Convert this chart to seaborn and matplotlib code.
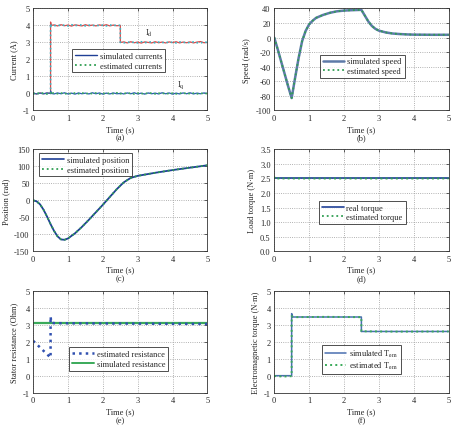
import pandas as pd
import seaborn as sns
import matplotlib.pyplot as plt
from matplotlib.lines import Line2D

# ---- data ----
t_cur = [0.0, 0.1, 0.2, 0.3, 0.4, 0.5, 0.5, 0.52, 0.6, 0.7, 0.8, 0.9, 1.0, 1.1, 1.2, 1.3,
         1.4, 1.5, 1.6, 1.7, 1.8, 1.9, 2.0, 2.1, 2.2, 2.3, 2.4, 2.5, 2.5, 2.6, 2.7, 2.8,
         2.9, 3.0, 3.1, 3.2, 3.3, 3.4, 3.5, 3.6, 3.7, 3.8, 3.9, 4.0, 4.1, 4.2, 4.3, 4.4,
         4.5, 4.6, 4.7, 4.8, 4.9, 5.0]
id_sim = [0.02, -0.03, 0.03, -0.02, 0.02, 0.0, 4.2, 4.0,
          4.03, 3.97, 4.04, 3.98, 4.02, 3.96, 4.03, 4.0, 3.97, 4.04, 3.98, 4.02, 3.97, 4.03,
          3.99, 4.04, 3.97, 4.02, 3.98, 4.0, 3.0,
          3.03, 2.97, 3.04, 2.98, 3.02, 2.96, 3.03, 3.0, 2.97, 3.04, 2.98, 3.02, 2.97, 3.03,
          2.99, 3.04, 2.97, 3.02, 2.98, 3.03, 2.97, 3.02, 3.05, 2.98, 3.0]
id_est = [-0.02, 0.03, -0.03, 0.02, -0.02, 0.0, 4.1, 3.98,
          3.97, 4.03, 3.98, 4.02, 3.97, 4.04, 3.98, 4.02, 4.03, 3.97, 4.02, 3.98, 4.03, 3.97,
          4.02, 3.97, 4.03, 3.98, 4.02, 4.0, 3.0,
          2.97, 3.03, 2.98, 3.02, 2.97, 3.04, 2.98, 3.02, 3.03, 2.97, 3.02, 2.98, 3.03, 2.97,
          3.02, 2.97, 3.03, 2.98, 3.02, 2.97, 3.03, 2.98, 2.97, 3.02, 3.0]
iq_sim = [0.02, -0.03, 0.02, -0.02, 0.03, 0.0, 0.15, 0.0,
          -0.03, 0.03, -0.02, 0.04, -0.03, 0.02, -0.04, 0.03, -0.02, 0.02, -0.03, 0.04, -0.02,
          0.03, -0.04, 0.02, -0.03, 0.03, -0.02, 0.0, 0.02,
          -0.03, 0.03, -0.02, 0.04, -0.03, 0.02, -0.04, 0.03, -0.02, 0.02, -0.03, 0.04, -0.02,
          0.03, -0.04, 0.02, -0.03, 0.03, -0.02, 0.04, -0.03, 0.02, -0.02, 0.03, 0.0]
iq_est = [-0.02, 0.03, -0.02, 0.03, -0.03, 0.0, 0.1, 0.02,
          0.03, -0.02, 0.03, -0.04, 0.02, -0.03, 0.03, -0.02, 0.04, -0.03, 0.02, -0.02, 0.03,
          -0.04, 0.02, -0.03, 0.03, -0.02, 0.04, 0.0, -0.02,
          0.03, -0.02, 0.03, -0.04, 0.02, -0.03, 0.03, -0.02, 0.04, -0.03, 0.02, -0.02, 0.03,
          -0.04, 0.02, -0.03, 0.03, -0.02, 0.04, -0.03, 0.02, -0.03, 0.02, -0.02, 0.0]

t_spd = [0, 0.1, 0.2, 0.3, 0.4, 0.5, 0.6, 0.7, 0.8, 0.9, 1.0, 1.1, 1.2, 1.4, 1.6, 1.8, 2.0,
         2.2, 2.5, 2.6, 2.7, 2.8, 2.9, 3.0, 3.2, 3.4, 3.6, 3.8, 4.0, 4.5, 5.0]
speed = [0, -16, -33, -50, -67, -83, -55, -28, -5, 9, 18, 23, 27, 31, 34, 36, 37,
         37.5, 38, 30, 22, 16, 12, 9.5, 7, 5.5, 4.8, 4.3, 4, 3.8, 3.8]

t_pos = [0, 0.1, 0.2, 0.3, 0.4, 0.5, 0.6, 0.7, 0.8, 0.9, 1.0, 1.2, 1.4, 1.6, 1.8, 2.0,
         2.2, 2.4, 2.6, 2.8, 3.0, 3.5, 4.0, 4.5, 5.0]
position = [0, -3, -12, -28, -48, -70, -90, -106, -115, -116, -112, -97, -78, -57, -35,
            -13, 10, 33, 53, 66, 72, 81, 89, 96, 103]

t_load = [0, 0.03, 0.06, 5]
load_real = [2.5, 2.5, 2.5, 2.5]
load_est = [2.5, 2.56, 2.5, 2.5]

t_res_est = [0, 0.5, 0.5, 0.52, 0.6, 1, 2, 3, 4, 5]
res_est = [2.05, 1.06, 3.48, 3.12, 3.09, 3.08, 3.07, 3.06, 3.05, 3.04]
t_res_sim = [0, 5]
res_sim = [3.1, 3.1]

t_tem = [0, 0.25, 0.5, 0.5, 0.53, 0.6, 1.5, 2.5, 2.5, 3.5, 5]
tem_sim = [0.0, 0.0, 0.0, 3.65, 3.45, 3.45, 3.45, 3.45, 2.6, 2.6, 2.6]
tem_est = [-0.02, -0.05, -0.03, 3.5, 3.46, 3.44, 3.46, 3.44, 2.61, 2.59, 2.6]

# ---- style ----
sns.set_style("white")
plt.rcParams['font.family'] = ['Liberation Serif', 'DejaVu Serif']
plt.rcParams['mathtext.fontset'] = 'stix'
plt.rcParams['axes.unicode_minus'] = False
FS = 6

BLUE = '#1f3f96'
GREEN = '#2f9e52'

fig = plt.figure(figsize=(4.54, 4.27), dpi=100)
lefts = [0.073, 0.604]
bottoms = [0.739, 0.409, 0.078]
W, H = 0.384, 0.239
axes = [fig.add_axes([lefts[i % 2], bottoms[i // 2], W, H]) for i in range(6)]


def style(ax, ylim, yticks, ylabel, tag):
    ax.set_xlim(0, 5)
    ax.set_ylim(*ylim)
    ax.set_xticks([0, 1, 2, 3, 4, 5])
    ax.set_yticks(yticks)
    ax.grid(True, linestyle=':', color='#999999', linewidth=0.6)
    ax.tick_params(direction='in', length=2.5, width=0.5, labelsize=FS, pad=2.5,
                   top=True, right=True)
    for s in ax.spines.values():
        s.set_linewidth(0.6)
        s.set_color('#333333')
    ax.set_xlabel('Time (s)', fontsize=FS, labelpad=2)
    ax.set_ylabel(ylabel, fontsize=FS, labelpad=3)
    ax.text(0.5, -0.265, tag, transform=ax.transAxes, ha='center', va='center', fontsize=FS)


def legend(ax, handles, labels, **kw):
    leg = ax.legend(handles, labels, fontsize=FS, frameon=True, fancybox=False,
                    handlelength=2.6, handletextpad=0.35, borderpad=0.35,
                    labelspacing=0.15, borderaxespad=0, **kw)
    leg.get_frame().set_edgecolor('#222222')
    leg.get_frame().set_linewidth(0.7)


def line(ax, x, y, color, ls='-', lw=1.0):
    sns.lineplot(x=x, y=y, ax=ax, color=color, linestyle=ls, linewidth=lw,
                 estimator=None, sort=False, legend=False)


# (a) currents
ax = axes[0]
line(ax, t_cur, id_sim, '#d94a4a', lw=0.9)
line(ax, t_cur, id_est, '#38b6c4', ':', lw=1.2)
line(ax, t_cur, iq_sim, '#2a5fb0', lw=0.9)
line(ax, t_cur, iq_est, '#3aaa5a', ':', lw=1.2)
style(ax, (-1, 5), range(-1, 6), 'Current (A)', '(a)')
ax.text(3.22, 3.58, r'I$_{\rm d}$', fontsize=FS, va='center')
ax.text(4.12, 0.53, r'I$_{\rm q}$', fontsize=FS, va='center')
legend(ax, [Line2D([], [], color=BLUE, lw=1.0), Line2D([], [], color=GREEN, ls=':', lw=1.3)],
       ['simulated currents', 'estimated currents'], loc='center', bbox_to_anchor=(0.49, 0.485))

# (b) speed
ax = axes[1]
line(ax, t_spd, speed, '#5d7aa8', lw=1.8)
line(ax, t_spd, speed, GREEN, ':', lw=1.3)
style(ax, (-100, 40), range(-100, 41, 20), 'Speed (rad/s)', '(b)')
legend(ax, [Line2D([], [], color='#5d7aa8', lw=1.8), Line2D([], [], color=GREEN, ls=':', lw=1.3)],
       ['simulated speed', 'estimated speed'], loc='center', bbox_to_anchor=(0.505, 0.435))

# (c) position
ax = axes[2]
line(ax, t_pos, position, BLUE, lw=1.3)
line(ax, t_pos, position, GREEN, ':', lw=1.3)
style(ax, (-150, 150), range(-150, 151, 50), 'Position (rad)', '(c)')
legend(ax, [Line2D([], [], color=BLUE, lw=1.2), Line2D([], [], color=GREEN, ls=':', lw=1.3)],
       ['simulated position', 'estimated position'], loc='upper left', bbox_to_anchor=(0.035, 0.96))

# (d) load torque
ax = axes[3]
line(ax, t_load, load_real, BLUE, lw=1.2)
line(ax, t_load, load_est, GREEN, ':', lw=1.4)
style(ax, (0, 3.5), [0, 0.5, 1, 1.5, 2, 2.5, 3, 3.5], 'Load torque (N·m)', '(d)')
legend(ax, [Line2D([], [], color=BLUE, lw=1.2), Line2D([], [], color=GREEN, ls=':', lw=1.3)],
       ['real torque', 'estimated torque'], loc='center', bbox_to_anchor=(0.505, 0.38))

# (e) stator resistance
ax = axes[4]
line(ax, t_res_sim, res_sim, '#3aaa5a', lw=1.6)
line(ax, t_res_est, res_est, '#3050b0', ':', lw=1.8)
style(ax, (-1, 5), range(-1, 6), 'Stator resistance (Ohm)', '(e)')
legend(ax, [Line2D([], [], color='#3050b0', ls=':', lw=1.8), Line2D([], [], color='#3aaa5a', lw=1.4)],
       ['estimated resistance', 'simulated resistance'], loc='center', bbox_to_anchor=(0.49, 0.33))

# (f) electromagnetic torque
ax = axes[5]
line(ax, t_tem, tem_sim, '#4a6fb0', lw=1.1)
line(ax, t_tem, tem_est, '#3aaa5a', ':', lw=1.4)
style(ax, (-1, 5), range(-1, 6), 'Electromagnetic torque (N·m)', '(f)')
legend(ax, [Line2D([], [], color='#4a6fb0', lw=1.1), Line2D([], [], color='#3aaa5a', ls=':', lw=1.4)],
       [r'simulated T$_{\rm em}$', r'estimated T$_{\rm em}$'], loc='center', bbox_to_anchor=(0.5, 0.325))

fig.savefig('out.png', dpi=100, facecolor='white')
